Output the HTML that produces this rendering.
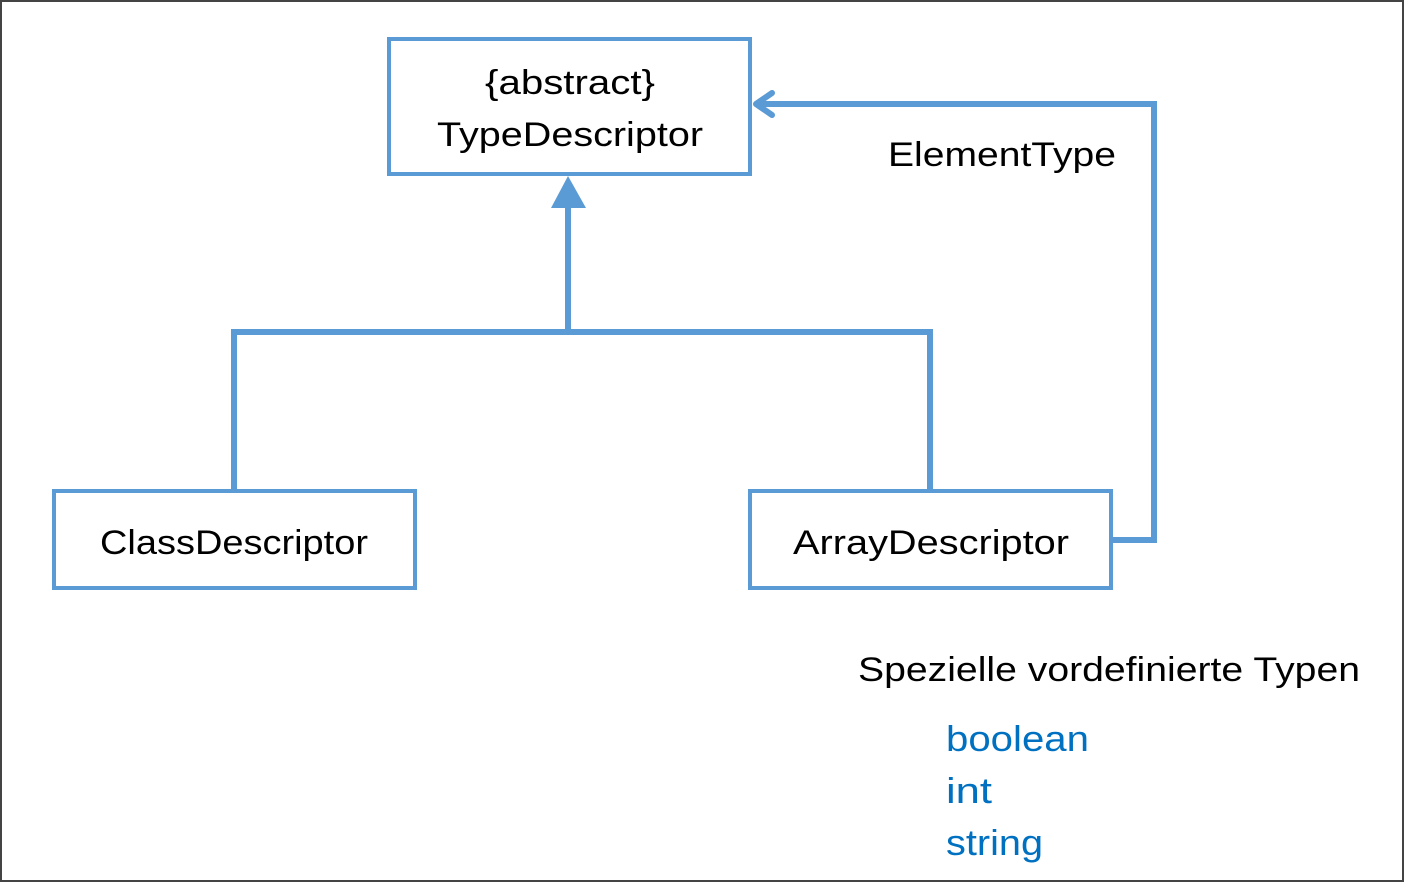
<!DOCTYPE html>
<html><head><style>
html,body{margin:0;padding:0;background:#fff}
svg{display:block}
text{font-family:"Liberation Sans",sans-serif;}
</style></head><body>
<svg width="1404" height="882" viewBox="0 0 1404 882" xmlns="http://www.w3.org/2000/svg">
<rect x="1" y="1" width="1402" height="880" fill="#fff" stroke="#444" stroke-width="2"/>
<g fill="none" stroke="#5b9bd5" stroke-width="4">
<rect x="389" y="39" width="361" height="135"/>
<rect x="54" y="491" width="361" height="97"/>
<rect x="750" y="491" width="361" height="97"/>
</g>
<g fill="none" stroke="#5b9bd5" stroke-width="6">
<polyline points="234,491 234,332 930,332 930,491"/>
<line x1="568" y1="332" x2="568" y2="206"/>
<polyline points="1112,540 1154,540 1154,104 756,104"/>
<polyline points="772,93 756,104 772,115" stroke-linecap="round" stroke-linejoin="round"/>
</g>
<polygon points="568,176 551,208 586,208" fill="#5b9bd5"/>
<g font-size="34" fill="#000" text-anchor="middle">
<text x="570" y="94" textLength="170" lengthAdjust="spacingAndGlyphs">{abstract}</text>
<text x="570" y="146" textLength="266" lengthAdjust="spacingAndGlyphs">TypeDescriptor</text>
<text x="234" y="554" textLength="268" lengthAdjust="spacingAndGlyphs">ClassDescriptor</text>
<text x="931" y="554" textLength="276" lengthAdjust="spacingAndGlyphs">ArrayDescriptor</text>
</g>
<g font-size="34" fill="#000">
<text x="888" y="166" textLength="228" lengthAdjust="spacingAndGlyphs">ElementType</text>
<text x="858" y="681" textLength="502" lengthAdjust="spacingAndGlyphs">Spezielle vordefinierte Typen</text>
</g>
<g font-size="36" fill="#0070c0">
<text x="946" y="751" textLength="143" lengthAdjust="spacingAndGlyphs">boolean</text>
<text x="946" y="803" textLength="46" lengthAdjust="spacingAndGlyphs">int</text>
<text x="946" y="855" textLength="97" lengthAdjust="spacingAndGlyphs">string</text>
</g>
</svg>
</body></html>
